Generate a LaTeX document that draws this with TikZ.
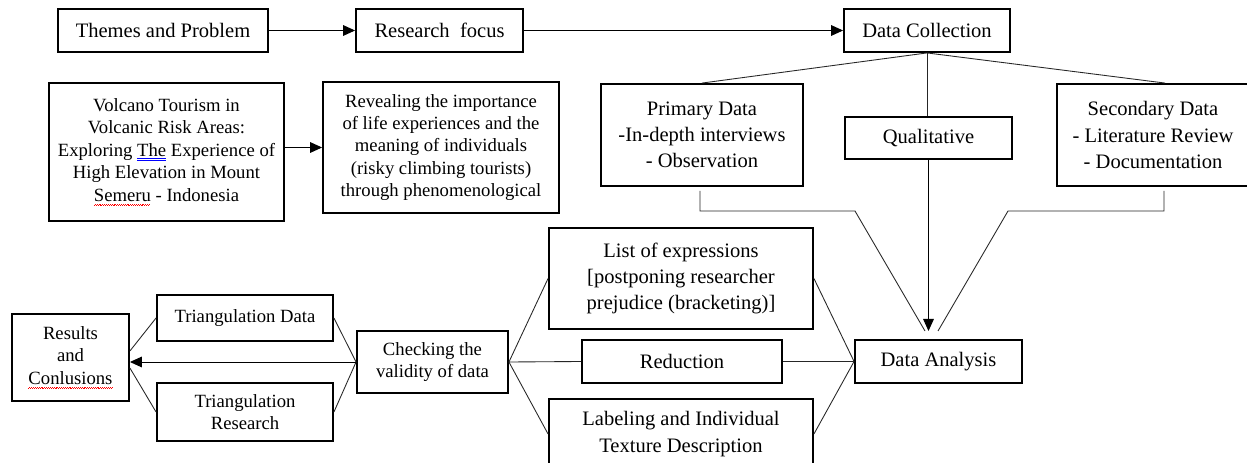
\documentclass[tikz,border=0pt]{standalone}
\usepackage{fontspec}
\setmainfont{Liberation Serif}
\usepackage{xcolor}
\usetikzlibrary{positioning,arrows.meta,calc}

% spell-check marks as they show in the source
\newcommand{\redwave}[1]{\setbox0\hbox{#1}\rlap{\color{red}\leaders\hbox{\rule[-3.4pt]{0.7pt}{0.45pt}\rule[-2.8pt]{0.7pt}{0.45pt}}\hskip\wd0}\box0\relax}
\newcommand{\blueline}[1]{\setbox0\hbox{#1}\rlap{\color{blue}\rule[-2pt]{\wd0}{0.4pt}}\rlap{\color{blue}\rule[-3.4pt]{\wd0}{0.4pt}}\box0\relax}

\begin{document}
\begin{tikzpicture}[x=0.75pt, y=-0.75pt,
    box/.style={draw, line width=1.4pt, align=center, inner sep=0pt, font=\fontsize{15.4}{16.7}\selectfont},
    wh/.style 2 args={minimum width=#1*0.75pt, minimum height=#2*0.75pt},
    small/.style={font=\fontsize{14}{16.8}\selectfont},
    wide/.style={font=\fontsize{15.4}{19.7}\selectfont},
    arr/.style={line width=0.7pt, -{Triangle[length=9pt,width=8pt]}},
    link/.style={line width=0.65pt, draw=black!85}]
    \path[use as bounding box, fill=white] (0,0) rectangle (1247,463);
    \clip (0,0) rectangle (1247,463);

    % Top row
    \node[box, wh={210}{43}] (theme) at (163,30.5) {Themes and Problem};
    \node[box, wh={167}{43}] (focus) at (439.5,30.5) {Research\ \ focus};
    \node[box, wh={166}{43}] (collect) at (927,30.5) {Data Collection};

    % Topic and aim
    \node[box, small, wh={235}{138}] (volcano) at (166.5,152) {Volcano Tourism in\\Volcanic Risk Areas:\\Exploring \blueline{The} Experience of\\High Elevation in Mount\\\redwave{Semeru} - Indonesia};
    \node[box, small, wh={236}{131}] (reveal) at (441,147.5) {Revealing the importance\\of life experiences and the\\meaning of individuals\\(risky climbing tourists)\\through phenomenological};

    % Data sources
    \node[box, wide, wh={202}{102}] (primary) at (702,135) {Primary Data\\-In-depth interviews\\- Observation};
    \node[box, wh={167}{42}] (qual) at (928.5,138) {Qualitative};
    \node[box, wide, wh={192}{102}] (secondary) at (1153,135) {Secondary Data\\- Literature Review\\- Documentation};

    % Analysis steps
    \node[box, wh={167}{43}] (analysis) at (938.5,361.5) {Data Analysis};
    \node[box, wide, wh={264}{101}] (listexp) at (681,278.5) {List of expressions\\{[}postponing researcher\\prejudice (bracketing)]};
    \node[box, wh={200}{43}] (reduct) at (682,361.5) {Reduction};
    \node[box, wide, wh={264}{70}] (label) at (681,434) {Labeling and Individual\\Texture Description};

    % Validity and results
    \node[box, small, wh={151}{62}] (check) at (432.5,362) {Checking the\\validity of data};
    \node[box, small, wh={176}{46}] (tridata) at (245,318) {Triangulation Data};
    \node[box, small, wh={176}{58}] (trires) at (245,412) {Triangulation\\Research};
    \node[box, small, wh={117}{87}] (results) at (70.5,357.5) {Results\\and\\\redwave{Conlusions}};

    % Main flow
    \draw[arr] (theme) -- (focus);
    \draw[arr] (focus) -- (collect);
    \draw[arr] (volcano.east |- reveal.west) -- (reveal.west);

    % Branches of data collection
    \draw[link] (collect.south) -- (primary.north);
    \draw[link] (collect.south) -- (collect.south |- qual.north);
    \draw[link] (collect.south) -- ([xshift=9pt]secondary.north);

    % Into data analysis
    \coordinate (p1) at (700,191);
    \coordinate (p2) at (855,211);
    \coordinate (a1) at (925,331);
    \coordinate (s1) at (1164,191);
    \coordinate (s2) at (1008,211);
    \coordinate (a3) at (938,331);
    \draw[link] (p1) |- (p2) -- (a1);
    \draw[link] (s1) |- (s2) -- (a3);
    \draw[arr] (qual.south) -- (qual.south |- a1);

    % Steps between checking and analysis
    \foreach \n in {listexp, reduct, label} {
        \draw[link] (check.east) -- (\n.west);
        \draw[link] (\n.east) -- (analysis.west);
    }

    % Triangulation and results
    \draw[link] (check.west) -- (tridata.east);
    \draw[link] (check.west) -- (trires.east);
    \draw[link] (tridata.west) -- ([yshift=4.9pt]results.east);
    \draw[link] (trires.west) -- ([yshift=-7.9pt]results.east);
    \draw[arr] (check.west) -- (check.west -| results.east);
\end{tikzpicture}
\end{document}
